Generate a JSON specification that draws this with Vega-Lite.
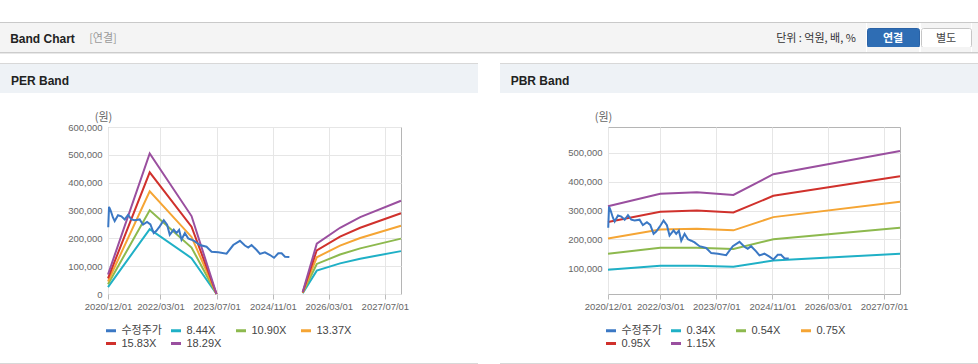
{
"$schema":"https://vega.github.io/schema/vega-lite/v6.json",
"padding":{"left":0,"top":22,"right":0,"bottom":0},
"background":"#ffffff",
"config":{"view":{"stroke":null},"concat":{"spacing":0},"font":"Liberation Sans","legend":{"padding":0}},
"datasets":{
"empty":[],
"price":[
{"date":"2020-12-03","series":"수정주가","value":240000},
{"date":"2020-12-10","series":"수정주가","value":313000},
{"date":"2020-12-24","series":"수정주가","value":300000},
{"date":"2021-01-13","series":"수정주가","value":275000},
{"date":"2021-01-28","series":"수정주가","value":262000},
{"date":"2021-02-26","series":"수정주가","value":283000},
{"date":"2021-03-27","series":"수정주가","value":279000},
{"date":"2021-04-25","series":"수정주가","value":268000},
{"date":"2021-05-24","series":"수정주가","value":284000},
{"date":"2021-06-22","series":"수정주가","value":268000},
{"date":"2021-07-21","series":"수정주가","value":265000},
{"date":"2021-09-02","series":"수정주가","value":268000},
{"date":"2021-10-01","series":"수정주가","value":249000},
{"date":"2021-11-05","series":"수정주가","value":259000},
{"date":"2021-12-04","series":"수정주가","value":250000},
{"date":"2022-01-02","series":"수정주가","value":219000},
{"date":"2022-01-25","series":"수정주가","value":227000},
{"date":"2022-02-23","series":"수정주가","value":243000},
{"date":"2022-03-30","series":"수정주가","value":265000},
{"date":"2022-04-28","series":"수정주가","value":249000},
{"date":"2022-05-21","series":"수정주가","value":213000},
{"date":"2022-06-25","series":"수정주가","value":231000},
{"date":"2022-07-18","series":"수정주가","value":219000},
{"date":"2022-08-10","series":"수정주가","value":230000},
{"date":"2022-08-31","series":"수정주가","value":195000},
{"date":"2022-09-29","series":"수정주가","value":219000},
{"date":"2022-10-28","series":"수정주가","value":200000},
{"date":"2022-11-26","series":"수정주가","value":195000},
{"date":"2022-12-25","series":"수정주가","value":189000},
{"date":"2023-02-06","series":"수정주가","value":176000},
{"date":"2023-04-05","series":"수정주가","value":170000},
{"date":"2023-05-19","series":"수정주가","value":152000},
{"date":"2023-07-16","series":"수정주가","value":150000},
{"date":"2023-09-26","series":"수정주가","value":145000},
{"date":"2023-11-23","series":"수정주가","value":176000},
{"date":"2024-01-20","series":"수정주가","value":191000},
{"date":"2024-03-03","series":"수정주가","value":174000},
{"date":"2024-04-01","series":"수정주가","value":167000},
{"date":"2024-04-30","series":"수정주가","value":176000},
{"date":"2024-06-13","series":"수정주가","value":158000},
{"date":"2024-07-12","series":"수정주가","value":144000},
{"date":"2024-08-24","series":"수정주가","value":150000},
{"date":"2024-10-07","series":"수정주가","value":140000},
{"date":"2024-11-11","series":"수정주가","value":130000},
{"date":"2024-12-18","series":"수정주가","value":146000},
{"date":"2025-01-16","series":"수정주가","value":146000},
{"date":"2025-02-14","series":"수정주가","value":134000},
{"date":"2025-03-24","series":"수정주가","value":133000}
],
"perBand":[
{"date":"2020-12-01","series":"8.44X","value":25000},
{"date":"2021-11-28","series":"8.44X","value":233000},
{"date":"2022-11-26","series":"8.44X","value":129000},
{"date":"2023-07-01","series":"8.44X","value":0},
{"date":"2024-06-01","series":"8.44X","value":null},
{"date":"2025-07-18","series":"8.44X","value":3000},
{"date":"2025-11-17","series":"8.44X","value":84000},
{"date":"2026-06-07","series":"8.44X","value":110000},
{"date":"2026-11-29","series":"8.44X","value":127000},
{"date":"2027-11-18","series":"8.44X","value":154000},
{"date":"2020-12-01","series":"10.90X","value":35000},
{"date":"2021-11-28","series":"10.90X","value":301000},
{"date":"2022-11-26","series":"10.90X","value":167000},
{"date":"2023-07-01","series":"10.90X","value":0},
{"date":"2024-06-01","series":"10.90X","value":null},
{"date":"2025-07-18","series":"10.90X","value":4000},
{"date":"2025-11-17","series":"10.90X","value":108000},
{"date":"2026-06-07","series":"10.90X","value":142000},
{"date":"2026-11-29","series":"10.90X","value":164000},
{"date":"2027-11-18","series":"10.90X","value":199000},
{"date":"2020-12-01","series":"13.37X","value":45000},
{"date":"2021-11-28","series":"13.37X","value":369000},
{"date":"2022-11-26","series":"13.37X","value":205000},
{"date":"2023-07-01","series":"13.37X","value":0},
{"date":"2024-06-01","series":"13.37X","value":null},
{"date":"2025-07-18","series":"13.37X","value":5000},
{"date":"2025-11-17","series":"13.37X","value":132000},
{"date":"2026-06-07","series":"13.37X","value":174000},
{"date":"2026-11-29","series":"13.37X","value":201000},
{"date":"2027-11-18","series":"13.37X","value":245000},
{"date":"2020-12-01","series":"15.83X","value":56000},
{"date":"2021-11-28","series":"15.83X","value":437000},
{"date":"2022-11-26","series":"15.83X","value":242000},
{"date":"2023-07-01","series":"15.83X","value":0},
{"date":"2024-06-01","series":"15.83X","value":null},
{"date":"2025-07-18","series":"15.83X","value":6000},
{"date":"2025-11-17","series":"15.83X","value":157000},
{"date":"2026-06-07","series":"15.83X","value":206000},
{"date":"2026-11-29","series":"15.83X","value":238000},
{"date":"2027-11-18","series":"15.83X","value":290000},
{"date":"2020-12-01","series":"18.29X","value":70000},
{"date":"2021-11-28","series":"18.29X","value":505000},
{"date":"2022-11-26","series":"18.29X","value":280000},
{"date":"2023-07-01","series":"18.29X","value":0},
{"date":"2024-06-01","series":"18.29X","value":null},
{"date":"2025-07-18","series":"18.29X","value":7000},
{"date":"2025-11-17","series":"18.29X","value":181000},
{"date":"2026-06-07","series":"18.29X","value":238000},
{"date":"2026-11-29","series":"18.29X","value":276000},
{"date":"2027-11-18","series":"18.29X","value":335000}
],
"pbrBand":[
{"date":"2020-12-01","series":"0.34X","value":94000},
{"date":"2022-03-01","series":"0.34X","value":108000},
{"date":"2023-01-14","series":"0.34X","value":108000},
{"date":"2023-11-28","series":"0.34X","value":105000},
{"date":"2024-11-10","series":"0.34X","value":126000},
{"date":"2027-11-18","series":"0.34X","value":150000},
{"date":"2020-12-01","series":"0.54X","value":150000},
{"date":"2022-03-01","series":"0.54X","value":171000},
{"date":"2023-01-14","series":"0.54X","value":171000},
{"date":"2023-11-28","series":"0.54X","value":166000},
{"date":"2024-11-10","series":"0.54X","value":200000},
{"date":"2027-11-18","series":"0.54X","value":240000},
{"date":"2020-12-01","series":"0.75X","value":203000},
{"date":"2022-03-01","series":"0.75X","value":234000},
{"date":"2023-01-14","series":"0.75X","value":237000},
{"date":"2023-11-28","series":"0.75X","value":231000},
{"date":"2024-11-10","series":"0.75X","value":277000},
{"date":"2027-11-18","series":"0.75X","value":330000},
{"date":"2020-12-01","series":"0.95X","value":260000},
{"date":"2022-03-01","series":"0.95X","value":296000},
{"date":"2023-01-14","series":"0.95X","value":300000},
{"date":"2023-11-28","series":"0.95X","value":293000},
{"date":"2024-11-10","series":"0.95X","value":351000},
{"date":"2027-11-18","series":"0.95X","value":419000},
{"date":"2020-12-01","series":"1.15X","value":315000},
{"date":"2022-03-01","series":"1.15X","value":358000},
{"date":"2023-01-14","series":"1.15X","value":363000},
{"date":"2023-11-28","series":"1.15X","value":354000},
{"date":"2024-11-10","series":"1.15X","value":426000},
{"date":"2027-11-18","series":"1.15X","value":507000}
]
},
"spacing":0,
"vconcat":[
{"width":978,"height":1,"data":{"name":"empty"},"mark":"point","view":{"fill":"#c9c9c9","stroke":null}},
{"spacing":0,"hconcat":[
 {"width":85,"height":29,"data":{"values":[{"label":"Band Chart"}]},"view":{"fill":"#f4f4f4","stroke":null},
  "mark":{"type":"text","align":"center","baseline":"middle","dy":1,"fontSize":12,"fontWeight":"bold","color":"#222222","font":"Liberation Sans"},
  "encoding":{"text":{"field":"label"}}},
 {"width":36,"height":29,"data":{"values":[{"label":"[연결]"}]},"view":{"fill":"#f4f4f4","stroke":null},
  "mark":{"type":"text","align":"center","baseline":"middle","dy":1,"fontSize":11,"color":"#999999","font":"Noto Sans CJK KR"},
  "encoding":{"text":{"field":"label"}}},
 {"width":645,"height":29,"data":{"name":"empty"},"mark":"point","view":{"fill":"#f4f4f4","stroke":null}},
 {"width":100,"height":29,"data":{"values":[{"label":"단위 : 억원, 배, %"}]},"view":{"fill":"#f4f4f4","stroke":null},
  "mark":{"type":"text","align":"center","baseline":"middle","dy":1,"fontSize":11,"color":"#333333","font":"Noto Sans CJK KR"},
  "encoding":{"text":{"field":"label"}}},
 {"spacing":0,"bounds":"flush","vconcat":[
  {"width":52,"height":5,"data":{"name":"empty"},"mark":"point","view":{"fill":"#f4f4f4","stroke":null}},
  {"width":52,"height":19,"data":{"values":[{"label":"연결"}]},"view":{"fill":"#2e6db4","stroke":"#2a62a6","cornerRadius":2},
   "mark":{"type":"text","align":"center","baseline":"middle","dy":1,"fontSize":11,"fontWeight":"bold","color":"#ffffff","font":"Noto Sans CJK KR"},
   "encoding":{"text":{"field":"label"}}},
  {"width":52,"height":5,"data":{"name":"empty"},"mark":"point","view":{"fill":"#f4f4f4","stroke":null}}
 ]},
 {"spacing":0,"bounds":"flush","vconcat":[
  {"width":50,"height":5,"data":{"name":"empty"},"mark":"point","view":{"fill":"#f4f4f4","stroke":null}},
  {"width":50,"height":19,"data":{"values":[{"label":"별도"}]},"view":{"fill":"#ffffff","stroke":"#c6c6c6","cornerRadius":2},
   "mark":{"type":"text","align":"center","baseline":"middle","dy":1,"fontSize":11,"color":"#444444","font":"Noto Sans CJK KR"},
   "encoding":{"text":{"field":"label"}}},
  {"width":50,"height":5,"data":{"name":"empty"},"mark":"point","view":{"fill":"#f4f4f4","stroke":null}}
 ]},
 {"width":10,"height":29,"data":{"name":"empty"},"mark":"point","view":{"fill":"#f4f4f4","stroke":null}}
]},
{"width":978,"height":1,"data":{"name":"empty"},"mark":"point","view":{"fill":"#cccccc","stroke":null}},
{"width":978,"height":1,"data":{"name":"empty"},"mark":"point","view":{"fill":"#e8e8e8","stroke":null}},
{"width":978,"height":9,"data":{"name":"empty"},"mark":"point"},
{"spacing":0,"hconcat":[
 {"width":478,"height":1,"data":{"name":"empty"},"mark":"point","view":{"fill":"#d8d8d8","stroke":null}},
 {"width":22,"height":1,"data":{"name":"empty"},"mark":"point"},
 {"width":478,"height":1,"data":{"name":"empty"},"mark":"point","view":{"fill":"#d8d8d8","stroke":null}}
]},
{"spacing":0,"hconcat":[
 {"width":80,"height":29,"data":{"values":[{"label":"PER Band"}]},"view":{"fill":"#eef2f6","stroke":null},
  "mark":{"type":"text","align":"center","baseline":"middle","dy":2,"fontSize":12,"fontWeight":"bold","color":"#222222","font":"Liberation Sans"},
  "encoding":{"text":{"field":"label"}}},
 {"width":398,"height":29,"data":{"name":"empty"},"mark":"point","view":{"fill":"#eef2f6","stroke":null}},
 {"width":22,"height":29,"data":{"name":"empty"},"mark":"point"},
 {"width":80,"height":29,"data":{"values":[{"label":"PBR Band"}]},"view":{"fill":"#eef2f6","stroke":null},
  "mark":{"type":"text","align":"center","baseline":"middle","dy":2,"fontSize":12,"fontWeight":"bold","color":"#222222","font":"Liberation Sans"},
  "encoding":{"text":{"field":"label"}}},
 {"width":398,"height":29,"data":{"name":"empty"},"mark":"point","view":{"fill":"#eef2f6","stroke":null}}
]},
{"width":978,"height":17,"data":{"name":"empty"},"mark":"point"},
{"spacing":0,"bounds":"flush",
 "resolve":{"scale":{"x":"independent","y":"independent","color":"independent"},"legend":{"color":"independent"}},
 "hconcat":[
 {"width":108,"height":167,"data":{"name":"empty"},"mark":"point"},
 {"width":293,"height":167,"view":{"stroke":"#b5b5b5","fill":"#ffffff"},
  "encoding":{
   "x":{"field":"date","type":"temporal","scale":{"type":"utc","domain":[{"year":2020,"month":12,"date":1,"utc":true},{"year":2027,"month":11,"date":18,"utc":true}]},
    "axis":{"values":[{"year":2020,"month":12,"date":1,"utc":true},{"year":2022,"month":3,"date":1,"utc":true},{"year":2023,"month":7,"date":1,"utc":true},{"year":2024,"month":11,"date":1,"utc":true},{"year":2026,"month":3,"date":1,"utc":true},{"year":2027,"month":7,"date":1,"utc":true}],
     "format":"%Y/%m/%d","labelOverlap":false,"labelFlush":false,"labelFontSize":9.5,"labelColor":"#666666","tickSize":5,"tickColor":"#bbbbbb","labelPadding":2,"grid":true,"gridColor":"#e6e6e6","domain":false,"title":null}},
   "y":{"field":"value","type":"quantitative","scale":{"domain":[0,600000],"nice":false,"zero":false},
    "axis":{"values":[0,100000,200000,300000,400000,500000,600000],"format":",d","ticks":false,"labelPadding":6,"labelFontSize":9.5,"labelColor":"#666666","grid":true,"gridColor":"#e6e6e6","domain":false,
     "title":"(원)","titleAngle":0,"titleX":-5,"titleY":-10,"titleAlign":"center","titleBaseline":"middle","titleFontSize":11,"titleFontWeight":"normal","titleColor":"#666666","titleFont":"Noto Sans CJK KR"}},
   "color":{"field":"series","type":"nominal",
    "scale":{"domain":["수정주가","8.44X","10.90X","13.37X","15.83X","18.29X"],"range":["#3b78c4","#1fb0c6","#8db94e","#f5a534","#d0312c","#9a4f9f"]},
    "legend":{"title":null,"orient":"none","legendX":-3.5,"legendY":197,"direction":"horizontal","columns":4,"symbolType":"stroke","symbolSize":100,"symbolStrokeWidth":3,"labelFontSize":11,"labelColor":"#444444","labelFont":"Liberation Sans, Noto Sans CJK KR","columnPadding":2,"rowPadding":0,"gridAlign":"all","labelOffset":4}}
  },
  "layer":[
   {"data":{"name":"perBand"},"mark":{"type":"line","strokeWidth":2,"invalid":"break-paths-filter-domains"}},
   {"data":{"name":"price"},"mark":{"type":"line","strokeWidth":2}}
  ]},
 {"width":207,"height":167,"data":{"name":"empty"},"mark":"point"},
 {"width":292,"height":167,"view":{"stroke":"#b5b5b5","fill":"#ffffff"},
  "encoding":{
   "x":{"field":"date","type":"temporal","scale":{"type":"utc","domain":[{"year":2020,"month":12,"date":1,"utc":true},{"year":2027,"month":11,"date":18,"utc":true}]},
    "axis":{"values":[{"year":2020,"month":12,"date":1,"utc":true},{"year":2022,"month":3,"date":1,"utc":true},{"year":2023,"month":7,"date":1,"utc":true},{"year":2024,"month":11,"date":1,"utc":true},{"year":2026,"month":3,"date":1,"utc":true},{"year":2027,"month":7,"date":1,"utc":true}],
     "format":"%Y/%m/%d","labelOverlap":false,"labelFlush":false,"labelFontSize":9.5,"labelColor":"#666666","tickSize":5,"tickColor":"#bbbbbb","labelPadding":2,"grid":true,"gridColor":"#e6e6e6","domain":false,"title":null}},
   "y":{"field":"value","type":"quantitative","scale":{"domain":[10000,590000],"nice":false,"zero":false},
    "axis":{"values":[100000,200000,300000,400000,500000],"format":",d","ticks":false,"labelPadding":6,"labelFontSize":9.5,"labelColor":"#666666","grid":true,"gridColor":"#e6e6e6","domain":false,
     "title":"(원)","titleAngle":0,"titleX":-5,"titleY":-10,"titleAlign":"center","titleBaseline":"middle","titleFontSize":11,"titleFontWeight":"normal","titleColor":"#666666","titleFont":"Noto Sans CJK KR"}},
   "color":{"field":"series","type":"nominal",
    "scale":{"domain":["수정주가","0.34X","0.54X","0.75X","0.95X","1.15X"],"range":["#3b78c4","#1fb0c6","#8db94e","#f5a534","#d0312c","#9a4f9f"]},
    "legend":{"title":null,"orient":"none","legendX":-3.5,"legendY":197,"direction":"horizontal","columns":4,"symbolType":"stroke","symbolSize":100,"symbolStrokeWidth":3,"labelFontSize":11,"labelColor":"#444444","labelFont":"Liberation Sans, Noto Sans CJK KR","columnPadding":2,"rowPadding":0,"gridAlign":"all","labelOffset":4}}
  },
  "layer":[
   {"data":{"name":"pbrBand"},"mark":{"type":"line","strokeWidth":2}},
   {"data":{"name":"price"},"mark":{"type":"line","strokeWidth":2}}
  ]}
]},
{"width":978,"height":12,"data":{"name":"empty"},"mark":"point"},
{"spacing":0,"hconcat":[
 {"width":478,"height":1,"data":{"name":"empty"},"mark":"point","view":{"fill":"#d8d8d8","stroke":null}},
 {"width":22,"height":1,"data":{"name":"empty"},"mark":"point"},
 {"width":478,"height":1,"data":{"name":"empty"},"mark":"point","view":{"fill":"#d8d8d8","stroke":null}}
]}
]
}
